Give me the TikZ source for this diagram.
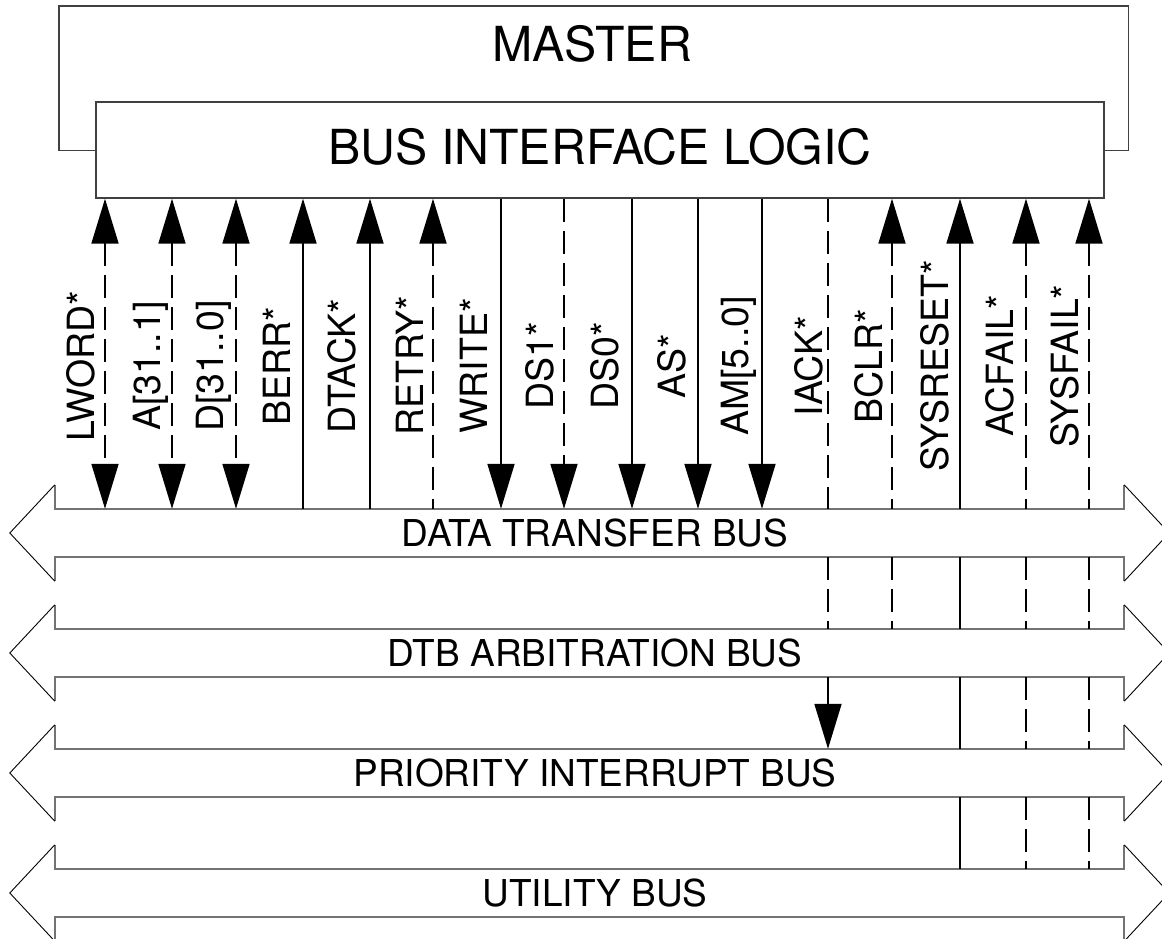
\documentclass[tikz,border=0pt]{standalone}
\usepackage{fontspec}
\setmainfont{TeX Gyre Heros}
\usetikzlibrary{arrows.meta}
\newcommand\busoutline[1]{%
  \draw[busline] ([yshift=24pt]#1.north west) -- (#1.north west) -- (#1.north east) -- ([yshift=24pt]#1.north east);
  \draw[busline] ([yshift=-24pt]#1.south west) -- (#1.south west) -- (#1.south east) -- ([yshift=-24pt]#1.south east);
  \draw[headline] ([yshift=24pt]#1.north west) -- ([xshift=-45pt]#1.west) -- ([yshift=-24pt]#1.south west);
  \draw[headline] ([yshift=24pt]#1.north east) -- ([xshift=45pt]#1.east) -- ([yshift=-24pt]#1.south east);
}
\begin{document}
\begin{tikzpicture}[x=1pt,y=-1pt,
  boxline/.style={draw=black!75, line width=1.4pt},
  busline/.style={draw=black!55, line width=1.6pt},
  headline/.style={draw=black, line width=0.9pt},
  sig/.style={line width=1.8pt},
  dsh/.style={sig, dash pattern=on 23pt off 9pt},
  >={Triangle[length=45pt,width=27pt]},
  bigfont/.style={font=\fontsize{48.3}{50}\selectfont},
  siglabel/.style={rotate=90, anchor=base, font=\fontsize{37.5}{40}\selectfont, inner sep=0pt},
  buslbl/.style={font=\fontsize{37}{40}\selectfont, inner sep=0pt},
  busbody/.style={minimum width=1069pt, minimum height=48pt, inner sep=0pt},
]
\useasboundingbox (0,0) rectangle (1162,939);
\clip (0,0) rectangle (1162,939);

% master and bus interface logic
\node[minimum width=1069pt, minimum height=144pt, inner sep=0pt, anchor=north west] (master) at (59,6) {};
\node[bigfont, inner sep=0pt] (mastertxt) at (592,44) {MASTER};
\node[boxline, fill=white, bigfont, minimum width=1008pt, minimum height=96pt, inner sep=0pt, text depth=8pt] (bil) at (600,150) {BUS INTERFACE LOGIC};
\draw[boxline] (bil.west |- master.south) -- (master.south west) -- (master.north west)
  -- (master.north east) -- (master.south east) -- (bil.east |- master.south);

% buses
\node[busbody] (dtb) at (589.5,533) {};
\node[busbody] (arb) at (589.5,653) {};
\node[busbody] (pib) at (589.5,773) {};
\node[busbody] (utb) at (589.5,893) {};
\busoutline{dtb}
\busoutline{arb}
\busoutline{pib}
\busoutline{utb}
\node[buslbl] (dtbtxt) at (595,533) {DATA TRANSFER BUS};
\node[buslbl] (arbtxt) at (595,653) {DTB ARBITRATION BUS};
\node[buslbl] (pibtxt) at (595,773) {PRIORITY INTERRUPT BUS};
\node[buslbl] (utbtxt) at (595,893) {UTILITY BUS};

% signal columns
\coordinate (cLWORD) at (105,0);
\coordinate (cA) at (172,0);
\coordinate (cD) at (236,0);
\coordinate (cBERR) at (303,0);
\coordinate (cDTACK) at (370,0);
\coordinate (cRETRY) at (433,0);
\coordinate (cWRITE) at (501,0);
\coordinate (cDSA) at (564,0);
\coordinate (cDSB) at (632,0);
\coordinate (cAS) at (698,0);
\coordinate (cAM) at (762,0);
\coordinate (cIACK) at (828,0);
\coordinate (cBCLR) at (892,0);
\coordinate (cSYSRESET) at (960,0);
\coordinate (cACFAIL) at (1026,0);
\coordinate (cSYSFAIL) at (1089,0);

% signals between bus interface logic and data transfer bus
\draw[dsh,<->] (bil.south -| cLWORD) -- (dtb.north -| cLWORD);
\draw[dsh,<->] (bil.south -| cA) -- (dtb.north -| cA);
\draw[dsh,<->] (bil.south -| cD) -- (dtb.north -| cD);
\draw[sig,<-] (bil.south -| cBERR) -- (dtb.north -| cBERR);
\draw[sig,<-] (bil.south -| cDTACK) -- (dtb.north -| cDTACK);
\draw[dsh,<-] (bil.south -| cRETRY) -- (dtb.north -| cRETRY);
\draw[sig,->] (bil.south -| cWRITE) -- (dtb.north -| cWRITE);
\draw[dsh,->] (bil.south -| cDSA) -- (dtb.north -| cDSA);
\draw[sig,->] (bil.south -| cDSB) -- (dtb.north -| cDSB);
\draw[sig,->] (bil.south -| cAS) -- (dtb.north -| cAS);
\draw[sig,->] (bil.south -| cAM) -- (dtb.north -| cAM);
\draw[dsh] (bil.south -| cIACK) -- (dtb.north -| cIACK);
\draw[dsh,<-] (bil.south -| cBCLR) -- (dtb.north -| cBCLR);
\draw[sig,<-] (bil.south -| cSYSRESET) -- (dtb.north -| cSYSRESET);
\draw[dsh,<-] (bil.south -| cACFAIL) -- (dtb.north -| cACFAIL);
\draw[dsh,<-] (bil.south -| cSYSFAIL) -- (dtb.north -| cSYSFAIL);

% data transfer bus to arbitration bus
\draw[dsh] (dtb.south -| cIACK) -- (arb.north -| cIACK);
\draw[dsh] (dtb.south -| cBCLR) -- (arb.north -| cBCLR);
\draw[sig] (dtb.south -| cSYSRESET) -- (arb.north -| cSYSRESET);
\draw[dsh] (dtb.south -| cACFAIL) -- (arb.north -| cACFAIL);
\draw[dsh] (dtb.south -| cSYSFAIL) -- (arb.north -| cSYSFAIL);

% arbitration bus to priority interrupt bus
\draw[sig,->] (arb.south -| cIACK) -- (pib.north -| cIACK);
\draw[sig] (arb.south -| cSYSRESET) -- (pib.north -| cSYSRESET);
\draw[dsh] (arb.south -| cACFAIL) -- (pib.north -| cACFAIL);
\draw[dsh] (arb.south -| cSYSFAIL) -- (pib.north -| cSYSFAIL);

% priority interrupt bus to utility bus
\draw[sig] (pib.south -| cSYSRESET) -- (utb.north -| cSYSRESET);
\draw[dsh] (pib.south -| cACFAIL) -- (utb.north -| cACFAIL);
\draw[dsh] (pib.south -| cSYSFAIL) -- (utb.north -| cSYSFAIL);

% signal labels
\node[siglabel] (lLWORD) at (94,366) {LWORD*};
\node[siglabel] (lA) at (160,366) {A[31..1]};
\node[siglabel] (lD) at (223,366) {D[31..0]};
\node[siglabel] (lBERR) at (290,366) {BERR*};
\node[siglabel] (lDTACK) at (355,366) {DTACK*};
\node[siglabel] (lRETRY) at (423,366) {RETRY*};
\node[siglabel] (lWRITE) at (487,366) {WRITE*};
\node[siglabel] (lDSA) at (553,366) {DS1*};
\node[siglabel] (lDSB) at (618,366) {DS0*};
\node[siglabel] (lAS) at (685,366) {AS*};
\node[siglabel] (lAM) at (748,366) {AM[5..0]};
\node[siglabel] (lIACK) at (822,366) {IACK*};
\node[siglabel] (lBCLR) at (882,366) {BCLR*};
\node[siglabel] (lSYSRESET) at (948,366) {SYSRESET*};
\node[siglabel] (lACFAIL) at (1013,366) {ACFAIL*};
\node[siglabel] (lSYSFAIL) at (1078,366) {SYSFAIL*};
\end{tikzpicture}
\end{document}
